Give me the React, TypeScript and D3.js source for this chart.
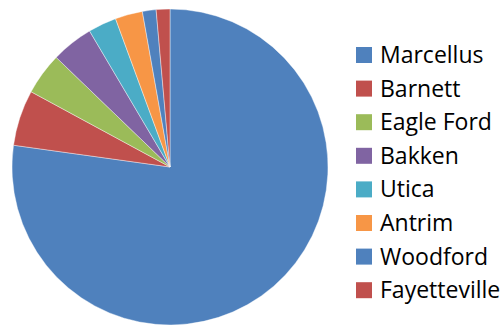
import React from "react";
import * as d3 from "d3";

const categories = ["Marcellus", "Barnett", "Eagle Ford", "Bakken", "Utica", "Antrim", "Woodford", "Fayetteville"];
const values = [77.2, 5.7, 4.3, 4.3, 2.9, 2.8, 1.4, 1.4];
const colors = ["#4F81BD", "#C0504D", "#9BBB59", "#8064A2", "#4BACC6", "#F79646", "#4F81BD", "#C0504D"];

export default function App() {
  const width = 504;
  const height = 326;
  const cx = 170;
  const cy = 167;
  const r = 158;

  const pie = d3.pie<number>().sort(null).value((d) => d);
  const arcs = pie(values);
  const arc = d3.arc<d3.PieArcDatum<number>>().innerRadius(0).outerRadius(r);

  const legendX = 356;
  const legendY = 47;
  const rowH = 33.6;
  const sq = 16;

  return (
    <svg
      width={width}
      height={height}
      style={{ position: "absolute", left: 0, top: 0, background: "#fff" }}
    >
      <g transform={`translate(${cx},${cy})`}>
        {arcs.map((a, i) => (
          <path key={i} d={arc(a) || ""} fill={colors[i]} stroke="#ffffff" strokeOpacity={0.5} strokeWidth={0.8} />
        ))}
      </g>
      <g>
        {categories.map((c, i) => (
          <g key={c} transform={`translate(${legendX},${legendY + i * rowH})`}>
            <rect x={0} y={0} width={sq} height={sq} fill={colors[i]} />
            <text x={24} y={sq} fontFamily="'Open Sans', sans-serif" fontSize={23} fill="#000">
              {c}
            </text>
          </g>
        ))}
      </g>
    </svg>
  );
}
